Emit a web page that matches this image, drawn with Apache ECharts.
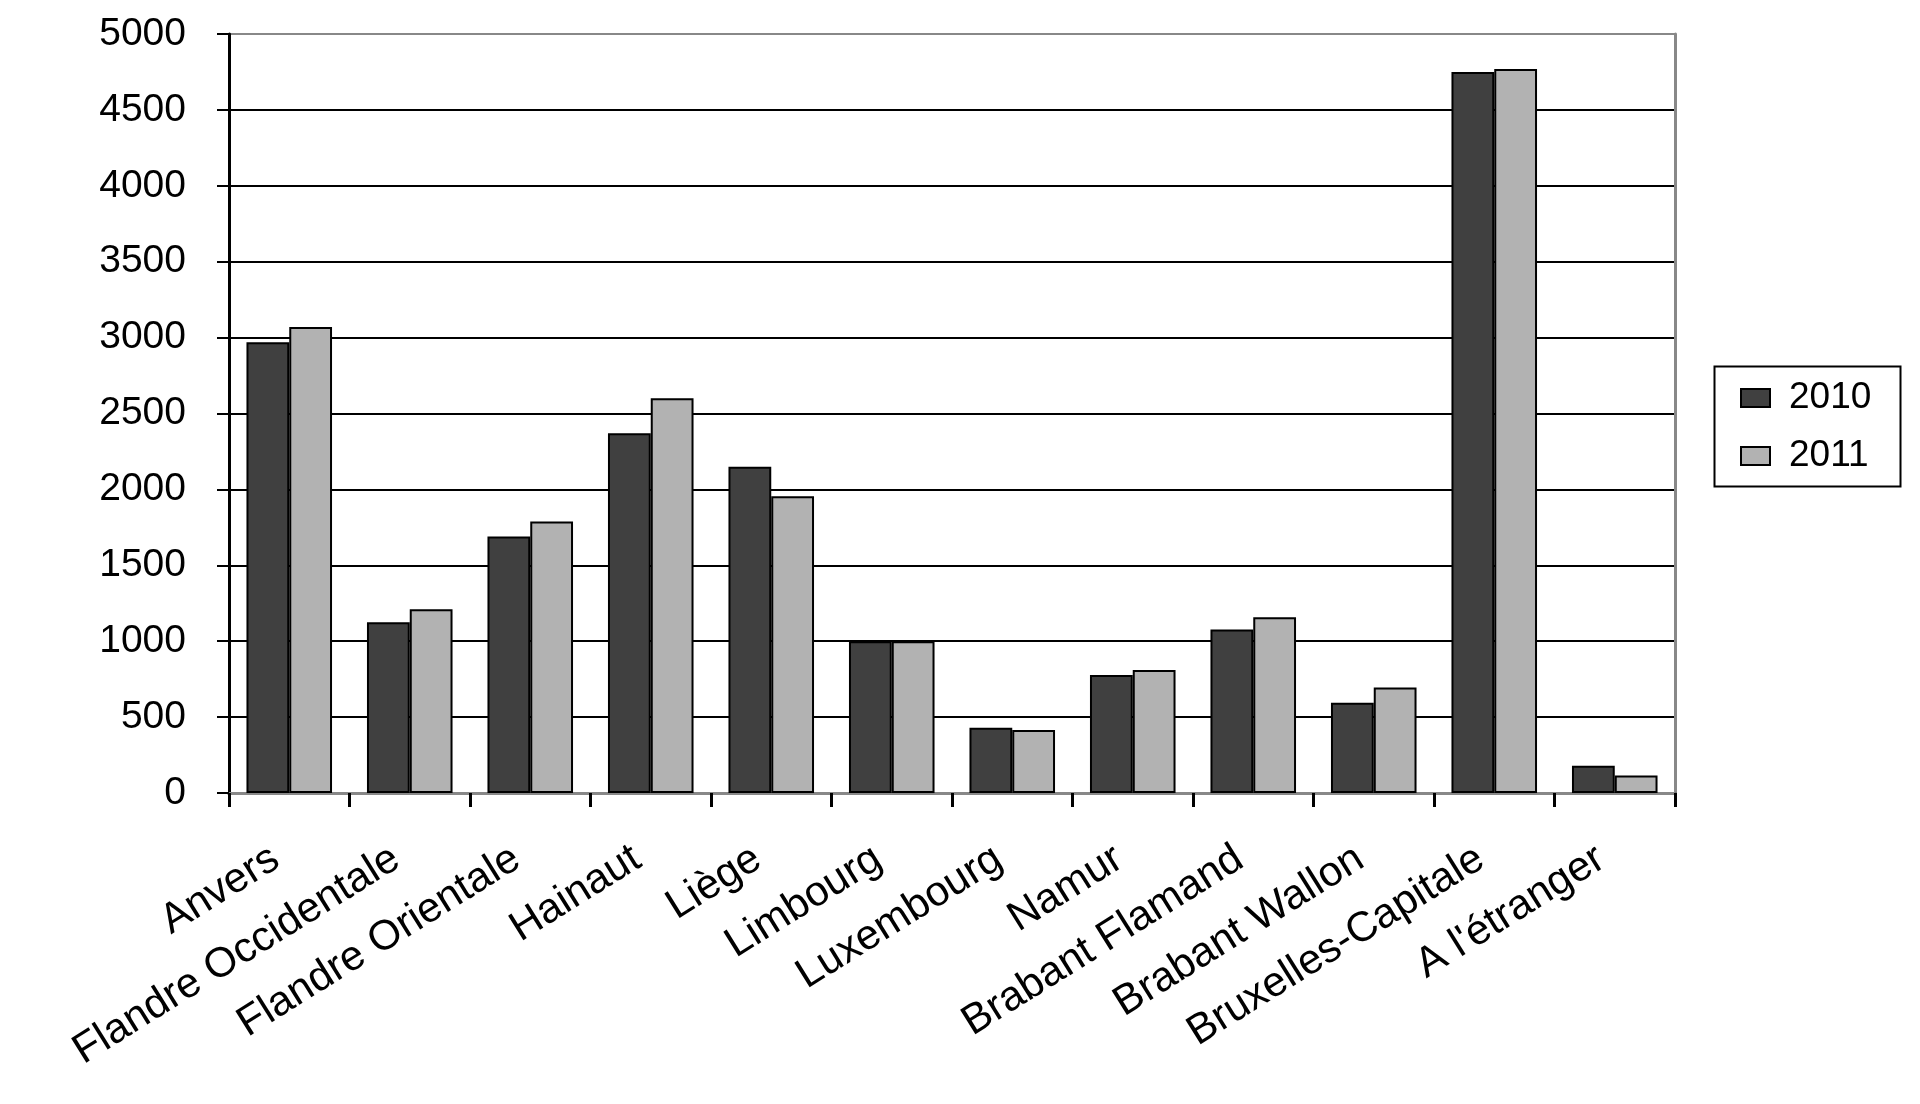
<!DOCTYPE html>
<html>
<head>
<meta charset="utf-8">
<script src="https://cdn.jsdelivr.net/npm/echarts@6/dist/echarts.min.js"></script>
<style>
html,body{margin:0;padding:0;background:#fff;}
#chart{width:1920px;height:1104px;}
</style>
</head>
<body>
<div id="chart"></div>
<script>
var categories = ['Anvers','Flandre Occidentale','Flandre Orientale','Hainaut','Liège','Limbourg','Luxembourg','Namur','Brabant Flamand','Brabant Wallon','Bruxelles-Capitale',"A l'étranger"];
var values2010 = [2970, 1125, 1690, 2370, 2150, 1000, 430, 778, 1077, 595, 4750, 180];
var values2011 = [3070, 1210, 1788, 2600, 1955, 1000, 415, 810, 1157, 695, 4770, 115];
var seriesNames = ['2010', '2011'];
var yTicks = [0, 500, 1000, 1500, 2000, 2500, 3000, 3500, 4000, 4500, 5000];

var FONT = '"Liberation Sans", Arial, sans-serif';
var chart = echarts.init(document.getElementById('chart'), null, {renderer: 'canvas'});
var splitColors = yTicks.map(function (v, i) { return i === yTicks.length - 1 ? '#888888' : '#000000'; });

chart.setOption({
  animation: false,
  backgroundColor: '#ffffff',
  grid: {left: 229, right: 245, top: 34, bottom: 311, containLabel: false},
  legend: {
    orient: 'vertical',
    left: 1735,
    top: 374,
    itemWidth: 29,
    itemHeight: 18,
    itemGap: 20,
    icon: 'rect',
    textStyle: {fontFamily: FONT, fontSize: 37, color: '#000', padding: [0, 0, 0, 14], lineHeight: 38},
    data: seriesNames
  },
  graphic: [{
    type: 'rect',
    left: 1712, top: 364,
    shape: {width: 186, height: 120},
    style: {fill: 'none', stroke: '#000', lineWidth: 2},
    silent: true, z: 100
  }],
  xAxis: [{
    type: 'category',
    data: categories,
    boundaryGap: true,
    axisLine: {show: true, lineStyle: {color: '#000', width: 3}},
    axisTick: {show: true, length: 14, lineStyle: {color: '#000', width: 3}},
    axisLabel: {rotate: 32, margin: 54, interval: 0, fontFamily: FONT, fontSize: 42, color: '#000', padding: [0, 16, 0, 0]},
    splitLine: {show: false}
  }, {
    type: 'category',
    data: categories,
    position: 'top',
    axisLine: {show: true, lineStyle: {color: '#888888', width: 3}},
    axisTick: {show: false},
    axisLabel: {show: false}
  }],
  yAxis: [{
    type: 'value',
    min: 0, max: 5000, interval: 500,
    axisLine: {show: true, lineStyle: {color: '#000', width: 3}},
    axisTick: {show: true, length: 12, lineStyle: {color: '#000', width: 2}},
    axisLabel: {margin: 43, fontFamily: FONT, fontSize: 39, color: '#000', formatter: function (v) { return String(v); }},
    splitLine: {show: true, lineStyle: {color: splitColors, width: 2}}
  }, {
    type: 'value',
    min: 0, max: 5000, interval: 500,
    position: 'right',
    axisLine: {show: true, lineStyle: {color: '#888888', width: 3}},
    axisTick: {show: false},
    axisLabel: {show: false},
    splitLine: {show: false}
  }],
  series: [{
    name: seriesNames[0],
    type: 'bar',
    data: values2010,
    barGap: '0%',
    barCategoryGap: '29%',
    itemStyle: {color: '#404040', borderColor: '#000', borderWidth: 2},
    z: 5
  }, {
    name: seriesNames[1],
    type: 'bar',
    data: values2011,
    barGap: '0%',
    barCategoryGap: '29%',
    itemStyle: {color: '#b2b2b2', borderColor: '#000', borderWidth: 2},
    z: 5
  }]
});
</script>
</body>
</html>
